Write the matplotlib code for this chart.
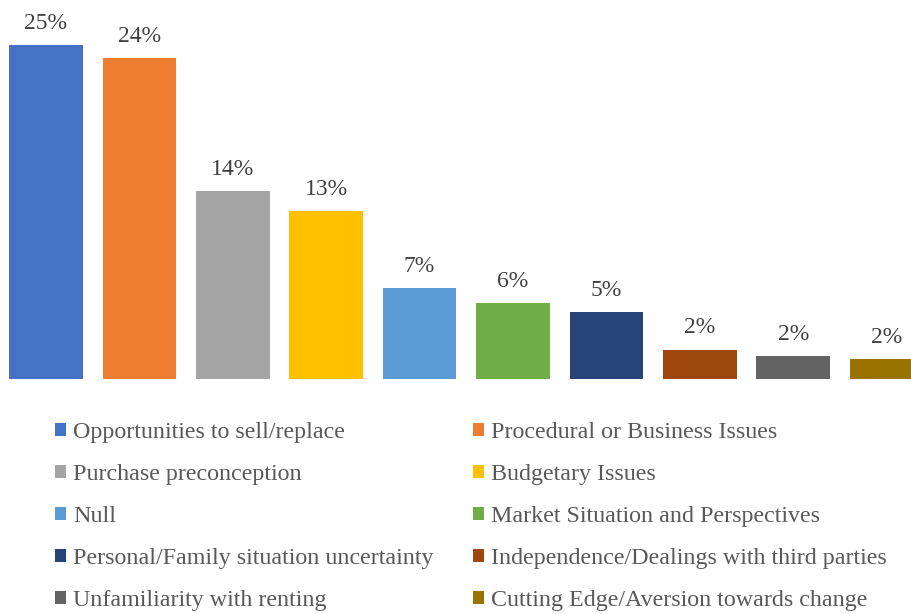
import matplotlib.pyplot as plt
import numpy as np

categories = [
    "Opportunities to sell/replace",
    "Procedural or Business Issues",
    "Purchase preconception",
    "Budgetary Issues",
    "Null",
    "Market Situation and Perspectives",
    "Personal/Family situation uncertainty",
    "Independence/Dealings with third parties",
    "Unfamiliarity with renting",
    "Cutting Edge/Aversion towards change",
]
shares = [0.250, 0.240, 0.141, 0.126, 0.068, 0.057, 0.050, 0.022, 0.017, 0.015]
colors = ["#4472C4", "#ED7D31", "#A5A5A5", "#FFC000", "#5B9BD5",
          "#70AD47", "#264478", "#9E480E", "#636363", "#997300"]

plt.rcParams['font.family'] = ['Liberation Serif', 'DejaVu Serif']

W, H = 912, 614
fig = plt.figure(figsize=(W / 100, H / 100), dpi=100)
# plot area: full width, from top down to the bar baseline
base_px = 379
ax = fig.add_axes([0, 1 - base_px / H, 1, base_px / H])

x = np.arange(len(categories))
bars = ax.bar(x, shares, width=0.79, color=colors, label=categories)

for xi, v in zip(x, shares):
    ax.annotate(f"{v:.0%}", (xi, v), xytext=(0, 8), textcoords="offset points",
                ha="center", va="bottom", fontsize=17, color="#404040")

spacing = 93.4
ax.set_xlim(-46 / spacing, (W - 46) / spacing)
ax.set_ylim(0, 0.25 * base_px / 334)
ax.axis("off")

# two legend columns, filled row by row
order = [0, 2, 4, 6, 8, 1, 3, 5, 7, 9]
handles = [bars.patches[i] for i in order]
labels = [categories[i] for i in order]
fig.legend(handles, labels, ncol=2, loc="upper left",
           bbox_to_anchor=(55 / W, 1 - 422 / H), frameon=False,
           fontsize=17.3, labelcolor="#595959",
           handlelength=0.46, handleheight=0.46, handletextpad=0.3,
           columnspacing=1.63, labelspacing=0.87, borderaxespad=0, borderpad=0)

fig.savefig("out.png", dpi=100)
